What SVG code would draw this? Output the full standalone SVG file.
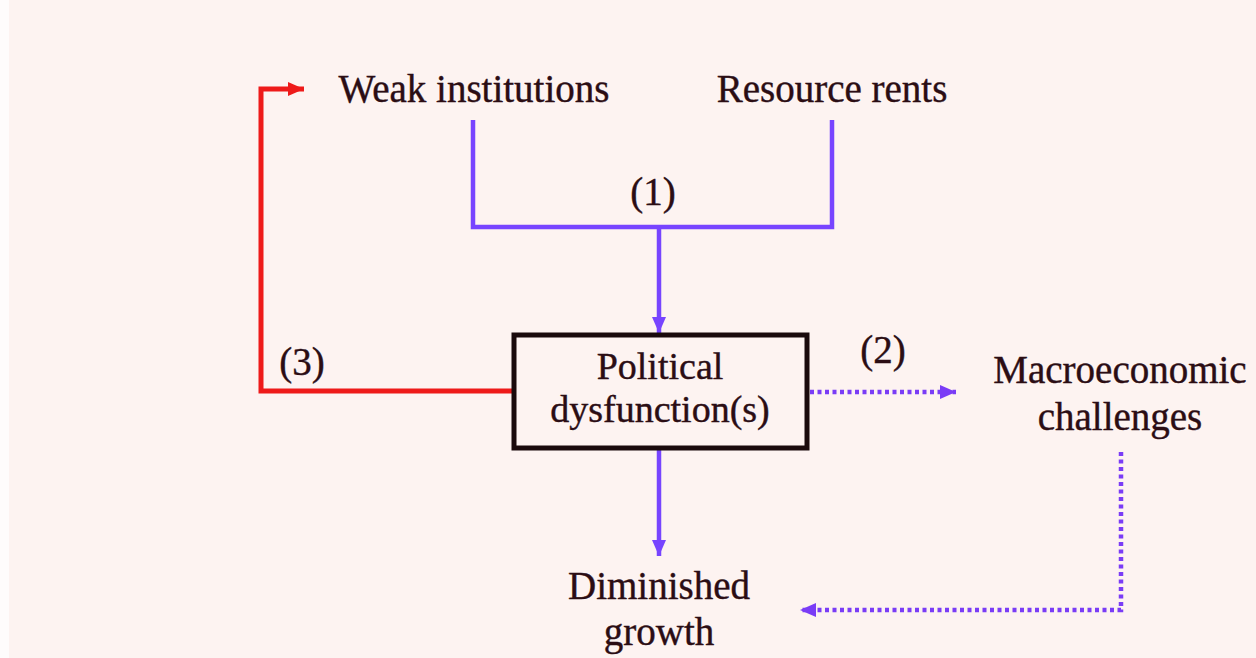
<svg xmlns="http://www.w3.org/2000/svg" width="1256" height="658" viewBox="0 0 1256 658">
<style>
.t{font-family:"Liberation Serif","Times New Roman",serif;font-size:39px;fill:#2b0d14;stroke:#2b0d14;stroke-width:0.4;text-anchor:middle}
.b{font-size:38px}
.solid{fill:none;stroke:#7744ff;stroke-width:4.5}
.dot{fill:none;stroke:#7a3cf6;stroke-width:4.5;stroke-dasharray:4 3.5}
.red{fill:none;stroke:#ee1a1a;stroke-width:5}
</style>
<defs>
<marker id="ap" markerUnits="userSpaceOnUse" markerWidth="18" markerHeight="18" viewBox="0 0 18 18" refX="17" refY="9" orient="auto"><path d="M1,2 L17,9 L1,16 Z" fill="#7744ff"/></marker>
<marker id="ad" markerUnits="userSpaceOnUse" markerWidth="18" markerHeight="18" viewBox="0 0 18 18" refX="17" refY="9" orient="auto"><path d="M1,2 L17,9 L1,16 Z" fill="#7a3cf6"/></marker>
<marker id="ar" markerUnits="userSpaceOnUse" markerWidth="18" markerHeight="18" viewBox="0 0 18 18" refX="17" refY="9" orient="auto"><path d="M1,2 L17,9 L1,16 Z" fill="#ee1a1a"/></marker>
</defs>
<rect width="1256" height="658" fill="#fefcfc"/>
<rect x="9" y="0" width="1247" height="658" fill="#fdf3f1"/>
<g id="connectors">
<path class="solid" d="M473,120 V227 H832 V120"/>
<path class="solid" d="M659,227 V333" marker-end="url(#ap)"/>
<path class="solid" d="M659,450 V556" marker-end="url(#ap)"/>
<path class="dot" d="M810,392 H956" marker-end="url(#ad)"/>
<path class="dot" d="M1121,452 V610 H800" marker-end="url(#ad)"/>
<path class="red" d="M512,391 H261 V89 H304" marker-end="url(#ar)"/>
<text class="t" x="653" y="205">(1)</text>
<text class="t" x="883" y="363">(2)</text>
<text class="t" x="302" y="375">(3)</text>
</g>
<g id="weak-institutions"><text class="t" x="474" y="102">Weak institutions</text></g>
<g id="resource-rents"><text class="t" x="832" y="102">Resource rents</text></g>
<g id="political-dysfunction">
<rect x="514" y="335" width="293" height="113" fill="none" stroke="#1a0a0c" stroke-width="5"/>
<text class="t b" x="660" y="379">Political</text>
<text class="t b" x="660" y="422">dysfunction(s)</text>
</g>
<g id="macroeconomic-challenges">
<text class="t" x="1120" y="383">Macroeconomic</text>
<text class="t" x="1120" y="430">challenges</text>
</g>
<g id="diminished-growth">
<text class="t" x="659" y="599">Diminished</text>
<text class="t" x="659" y="645">growth</text>
</g>
</svg>
